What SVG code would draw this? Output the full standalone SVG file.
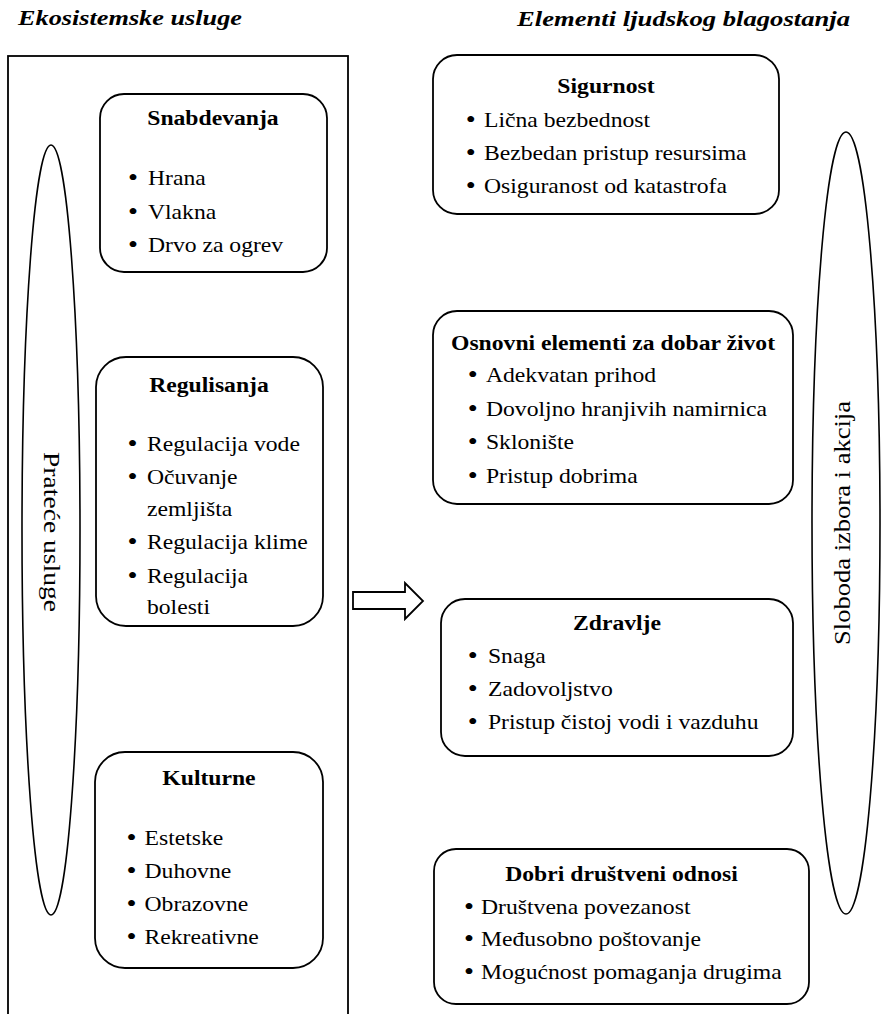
<svg xmlns="http://www.w3.org/2000/svg" width="882" height="1014" viewBox="0 0 882 1014">
<style>
.bg{fill:#fff}
.box{fill:none;stroke:#000;stroke-width:1.8}
.ell{fill:none;stroke:#000;stroke-width:1.6}
text{font-family:'Liberation Serif','Times New Roman',serif;fill:#000}
.h{font-size:22px;font-weight:bold;font-style:italic}
.t{font-size:21.5px;font-weight:bold;text-anchor:middle}
.i{font-size:21.5px}
.b{font-size:26px}
.v{font-size:24px;text-anchor:middle}
</style>
<rect class="bg" x="0" y="0" width="882" height="1014"/>
<text class="h" x="18" y="25" textLength="224" lengthAdjust="spacingAndGlyphs">Ekosistemske usluge</text>
<text class="h" x="517" y="26" textLength="333" lengthAdjust="spacingAndGlyphs">Elementi ljudskog blagostanja</text>

<g id="frame-left">
<rect class="box" x="8" y="56" width="340" height="970" stroke-width="2"/>
</g>

<g id="pratece">
<ellipse class="ell" cx="51" cy="530" rx="29" ry="385"/>
<text class="v" transform="translate(43.5,532) rotate(90)" textLength="160" lengthAdjust="spacingAndGlyphs">Prateće usluge</text>
</g>

<g id="snabdevanja">
<rect class="box" x="100" y="94" width="227" height="178" rx="24"/>
<text class="t" transform="scale(1.1,1)" x="193.6" y="125">Snabdevanja</text>
<text class="i" transform="scale(1.1,1)"><tspan class="b" x="116.4" y="186">•</tspan><tspan x="134.5" y="185">Hrana</tspan></text>
<text class="i" transform="scale(1.1,1)"><tspan class="b" x="116.4" y="220">•</tspan><tspan x="134.5" y="219">Vlakna</tspan></text>
<text class="i" transform="scale(1.1,1)"><tspan class="b" x="116.4" y="253">•</tspan><tspan x="134.5" y="252">Drvo za ogrev</tspan></text>
</g>

<g id="regulisanja">
<rect class="box" x="96" y="357" width="227" height="269" rx="30"/>
<text class="t" transform="scale(1.1,1)" x="190" y="392">Regulisanja</text>
<text class="i" transform="scale(1.1,1)"><tspan class="b" x="115.9" y="452">•</tspan><tspan x="133.6" y="451">Regulacija vode</tspan></text>
<text class="i" transform="scale(1.1,1)"><tspan class="b" x="115.9" y="485">•</tspan><tspan x="133.6" y="484">Očuvanje</tspan></text>
<text class="i" transform="scale(1.1,1)" x="133.6" y="516">zemljišta</text>
<text class="i" transform="scale(1.1,1)"><tspan class="b" x="115.9" y="550">•</tspan><tspan x="133.6" y="549">Regulacija klime</tspan></text>
<text class="i" transform="scale(1.1,1)"><tspan class="b" x="115.9" y="584">•</tspan><tspan x="133.6" y="583">Regulacija</tspan></text>
<text class="i" transform="scale(1.1,1)" x="133.6" y="614">bolesti</text>
</g>

<g id="kulturne">
<rect class="box" x="95" y="752" width="228" height="216" rx="30"/>
<text class="t" transform="scale(1.1,1)" x="190" y="785">Kulturne</text>
<text class="i" transform="scale(1.1,1)"><tspan class="b" x="115" y="846">•</tspan><tspan x="131.4" y="845">Estetske</tspan></text>
<text class="i" transform="scale(1.1,1)"><tspan class="b" x="115" y="879">•</tspan><tspan x="131.4" y="878">Duhovne</tspan></text>
<text class="i" transform="scale(1.1,1)"><tspan class="b" x="115" y="912">•</tspan><tspan x="131.4" y="911">Obrazovne</tspan></text>
<text class="i" transform="scale(1.1,1)"><tspan class="b" x="115" y="945">•</tspan><tspan x="131.4" y="944">Rekreativne</tspan></text>
</g>

<g id="connectors">
<path class="box" d="M353,592 L405,592 L405,583 L423,601 L405,619 L405,609 L353,609 Z"/>
</g>

<g id="sigurnost">
<rect class="box" x="433" y="55" width="346" height="159" rx="24"/>
<text class="t" transform="scale(1.1,1)" x="550.9" y="93">Sigurnost</text>
<text class="i" transform="scale(1.1,1)"><tspan class="b" x="423.4" y="128">•</tspan><tspan x="440" y="127">Lična bezbednost</tspan></text>
<text class="i" transform="scale(1.1,1)"><tspan class="b" x="423.4" y="161">•</tspan><tspan x="440" y="160">Bezbedan pristup resursima</tspan></text>
<text class="i" transform="scale(1.1,1)"><tspan class="b" x="423.4" y="194">•</tspan><tspan x="440" y="193">Osiguranost od katastrofa</tspan></text>
</g>

<g id="osnovni">
<rect class="box" x="433" y="311" width="360" height="193" rx="24"/>
<text class="t" transform="scale(1.1,1)" x="557.3" y="350">Osnovni elementi za dobar život</text>
<text class="i" transform="scale(1.1,1)"><tspan class="b" x="425.2" y="383">•</tspan><tspan x="441.8" y="382">Adekvatan prihod</tspan></text>
<text class="i" transform="scale(1.1,1)"><tspan class="b" x="425.2" y="417">•</tspan><tspan x="441.8" y="416">Dovoljno hranjivih namirnica</tspan></text>
<text class="i" transform="scale(1.1,1)"><tspan class="b" x="425.2" y="450">•</tspan><tspan x="441.8" y="449">Sklonište</tspan></text>
<text class="i" transform="scale(1.1,1)"><tspan class="b" x="425.2" y="484">•</tspan><tspan x="441.8" y="483">Pristup dobrima</tspan></text>
</g>

<g id="zdravlje">
<rect class="box" x="441" y="599" width="352" height="157" rx="24"/>
<text class="t" transform="scale(1.1,1)" x="560.9" y="630">Zdravlje</text>
<text class="i" transform="scale(1.1,1)"><tspan class="b" x="425.2" y="664">•</tspan><tspan x="443.6" y="663">Snaga</tspan></text>
<text class="i" transform="scale(1.1,1)"><tspan class="b" x="425.2" y="697">•</tspan><tspan x="443.6" y="696">Zadovoljstvo</tspan></text>
<text class="i" transform="scale(1.1,1)"><tspan class="b" x="425.2" y="730">•</tspan><tspan x="443.6" y="729">Pristup čistoj vodi i vazduhu</tspan></text>
</g>

<g id="dobri">
<rect class="box" x="434" y="849" width="375" height="155" rx="22"/>
<text class="t" transform="scale(1.1,1)" x="565" y="881">Dobri društveni odnosi</text>
<text class="i" transform="scale(1.1,1)"><tspan class="b" x="421.8" y="915">•</tspan><tspan x="437.3" y="914">Društvena povezanost</tspan></text>
<text class="i" transform="scale(1.1,1)"><tspan class="b" x="421.8" y="947">•</tspan><tspan x="437.3" y="946">Međusobno poštovanje</tspan></text>
<text class="i" transform="scale(1.1,1)"><tspan class="b" x="421.8" y="980">•</tspan><tspan x="437.3" y="979">Mogućnost pomaganja drugima</tspan></text>
</g>

<g id="sloboda">
<ellipse class="ell" cx="846" cy="523" rx="34" ry="391"/>
<text class="v" font-size="26" transform="translate(850,523) rotate(-90)" textLength="244" lengthAdjust="spacingAndGlyphs">Sloboda izbora i akcija</text>
</g>
</svg>
